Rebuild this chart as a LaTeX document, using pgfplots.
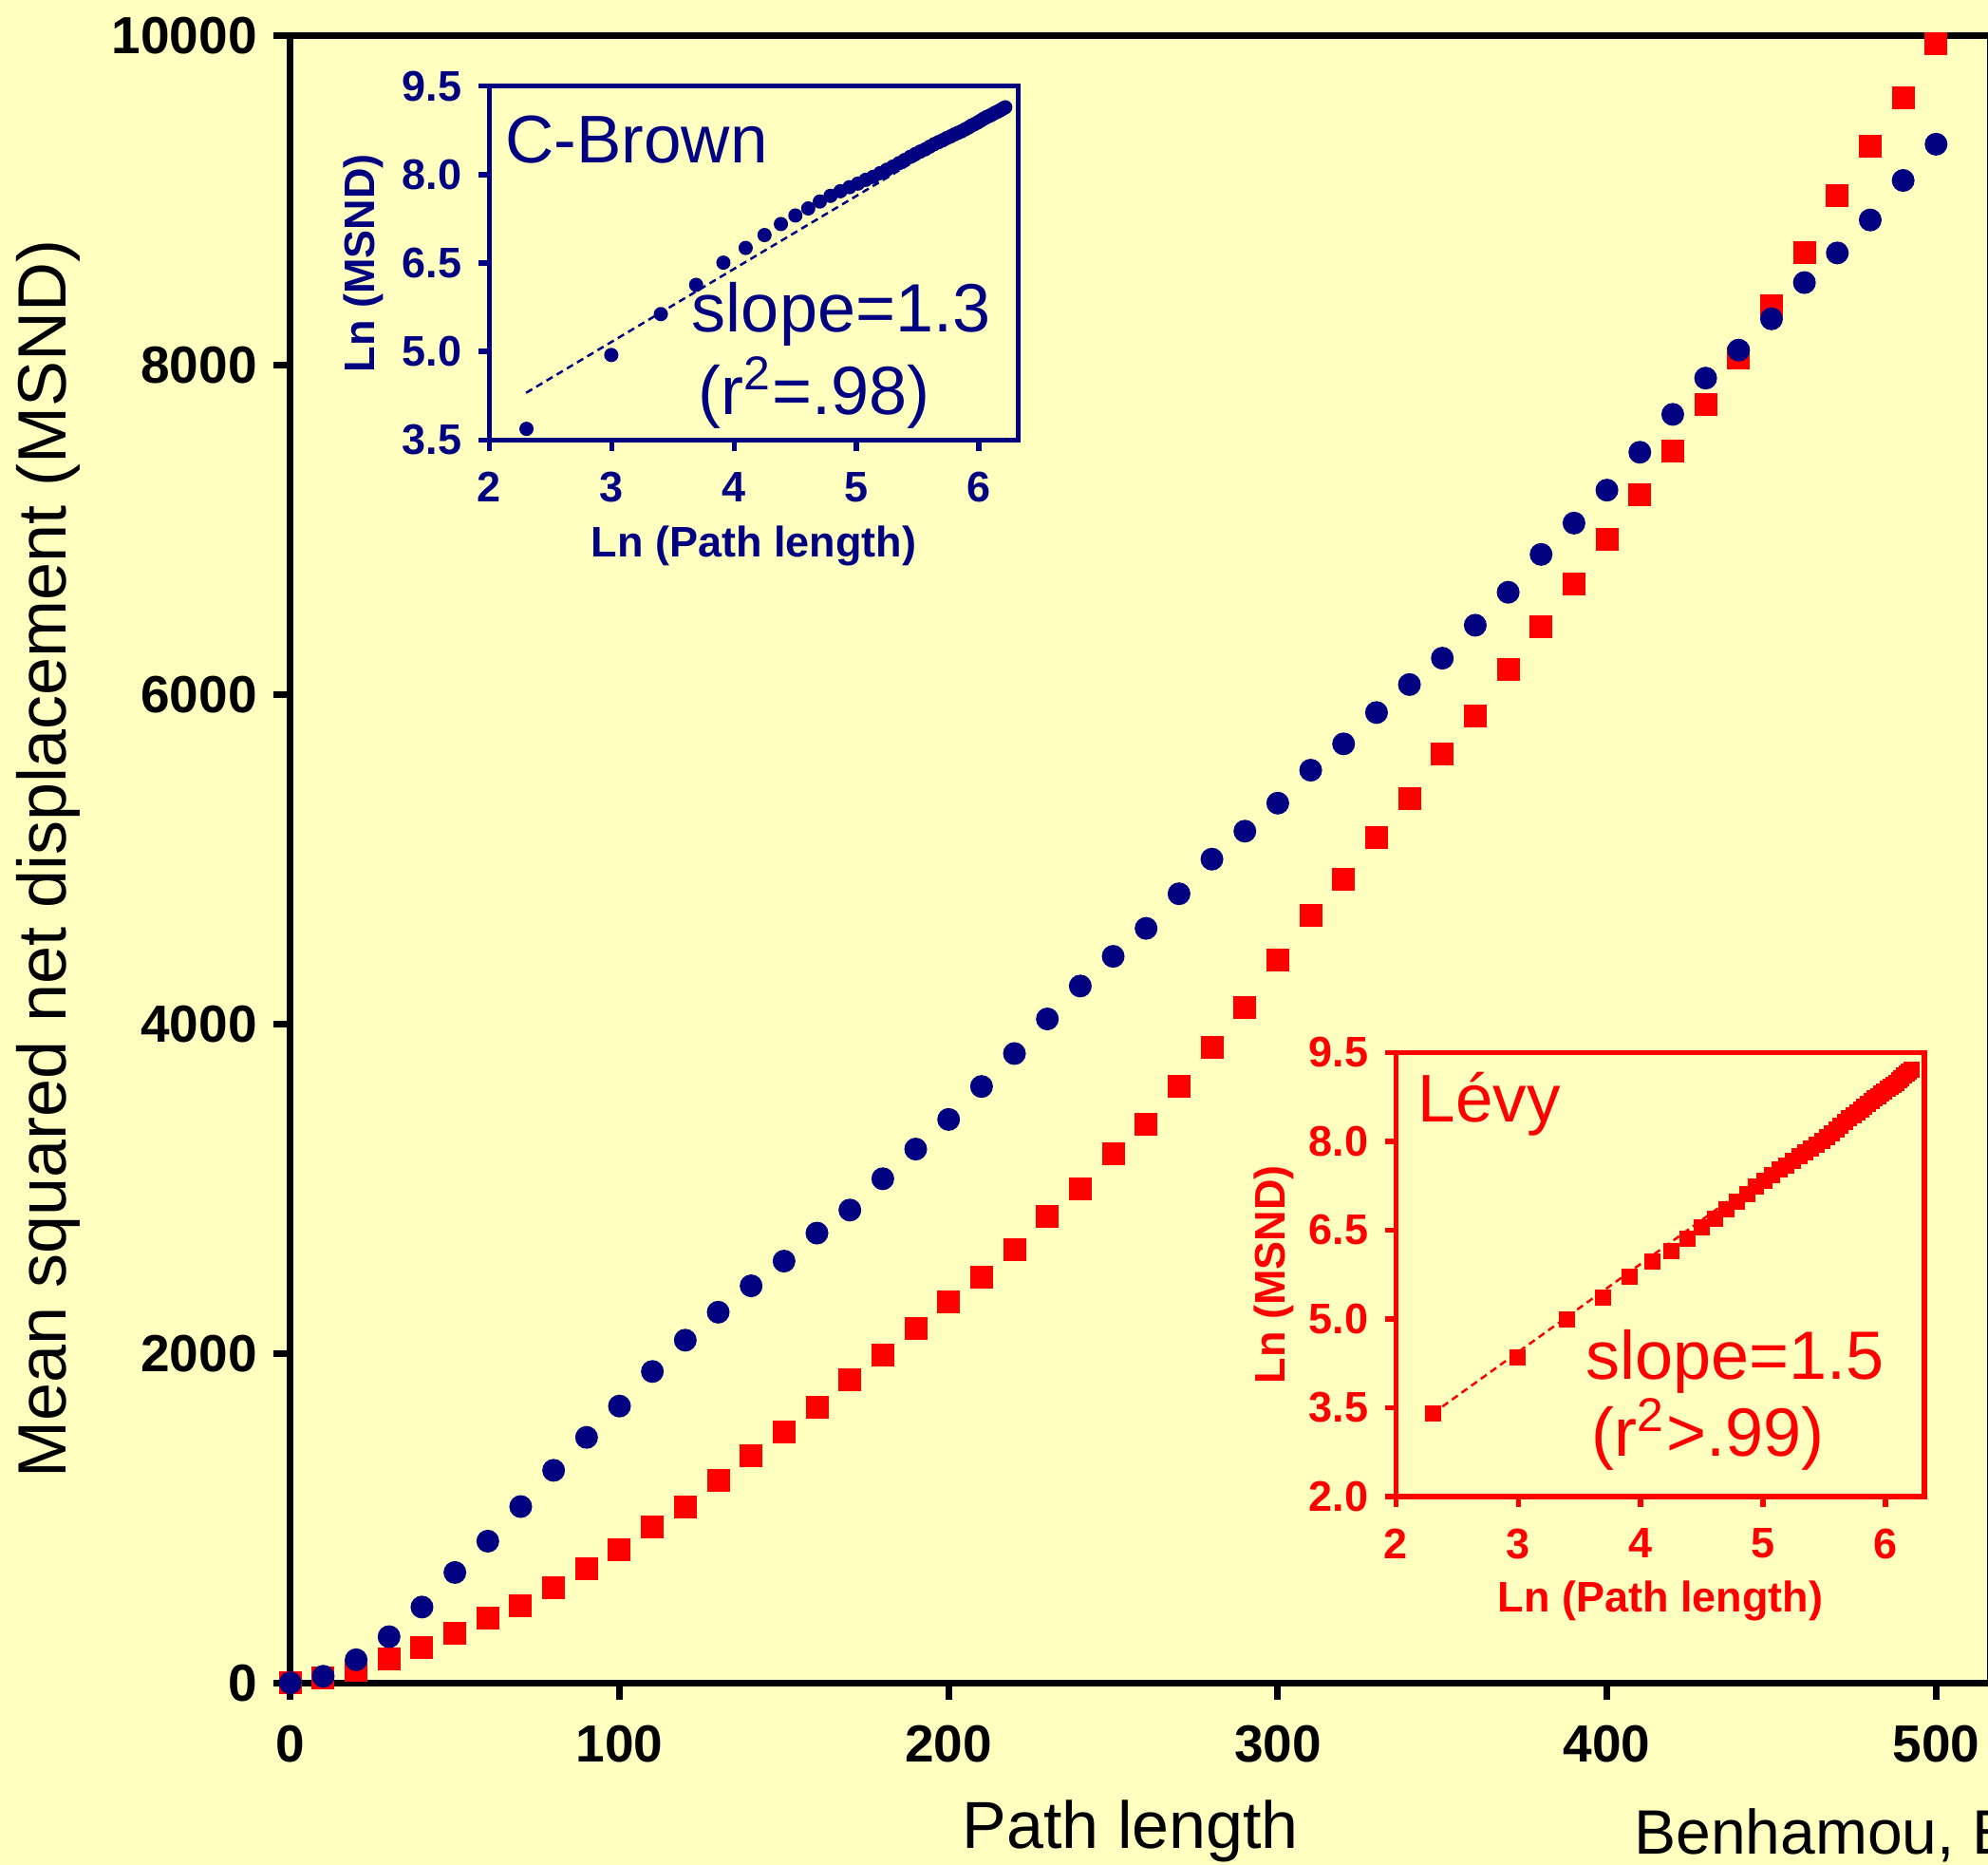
\documentclass[border=0pt]{standalone}
\usepackage{fontspec}
\setmainfont{Liberation Sans}
\usepackage{pgfplots}
\pgfplotsset{compat=1.18}
\definecolor{bgc}{RGB}{255,255,192}
\definecolor{navy}{RGB}{0,0,128}
\definecolor{lred}{RGB}{255,0,0}

% main data: path length vs MSND
\pgfplotstableread{
x y
0 0
10 40
20 140
30 280
40 460
50 670
60 860
70 1070
80 1290
90 1490
100 1680
110 1890
120 2080
130 2250
140 2410
150 2560
160 2730
170 2870
180 3060
190 3240
200 3420
210 3620
220 3820
230 4030
240 4230
250 4410
260 4580
270 4790
280 5000
290 5170
300 5340
310 5540
320 5700
330 5890
340 6060
350 6220
360 6420
370 6620
380 6850
390 7040
400 7240
410 7470
420 7700
430 7920
440 8090
450 8280
460 8500
470 8680
480 8880
490 9120
500 9340
}\brown
\pgfplotstableread{
x y
0 0
10 30
20 77
30 146
40 213
50 300
60 392
70 467
80 576
90 692
100 807
110 945
120 1070
130 1230
140 1380
150 1520
160 1670
170 1840
180 1990
190 2150
200 2310
210 2460
220 2630
230 2830
240 3000
250 3210
260 3390
270 3620
280 3860
290 4100
300 4390
310 4660
320 4880
330 5130
340 5370
350 5640
360 5870
370 6150
380 6410
390 6670
400 6940
410 7210
420 7480
430 7760
440 8040
450 8360
460 8680
470 9030
480 9330
490 9620
500 9950
}\levy
% log-log data for the insets
\pgfplotstableread{
lx ly
2.303 3.689
2.996 4.942
3.401 5.635
3.689 6.131
3.912 6.507
4.094 6.757
4.248 6.975
4.382 7.162
4.500 7.307
4.605 7.427
4.700 7.544
4.787 7.640
4.868 7.719
4.942 7.787
5.011 7.848
5.075 7.912
5.136 7.962
5.193 8.026
5.247 8.083
5.298 8.137
5.347 8.194
5.394 8.248
5.438 8.301
5.481 8.350
5.521 8.392
5.561 8.429
5.598 8.474
5.635 8.517
5.670 8.551
5.704 8.583
5.737 8.620
5.768 8.648
5.799 8.681
5.829 8.709
5.858 8.735
5.886 8.767
5.914 8.798
5.940 8.832
5.966 8.859
5.991 8.887
6.016 8.919
6.040 8.949
6.064 8.977
6.087 8.998
6.109 9.022
6.131 9.048
6.153 9.069
6.174 9.092
6.194 9.118
6.215 9.142
}\lnbrown
\pgfplotstableread{
lx ly
2.303 3.401
2.996 4.344
3.401 4.984
3.689 5.361
3.912 5.704
4.094 5.971
4.248 6.146
4.382 6.356
4.500 6.540
4.605 6.693
4.700 6.851
4.787 6.975
4.868 7.115
4.942 7.230
5.011 7.326
5.075 7.421
5.136 7.518
5.193 7.596
5.247 7.673
5.298 7.745
5.347 7.808
5.394 7.875
5.438 7.948
5.481 8.006
5.521 8.074
5.561 8.129
5.598 8.194
5.635 8.258
5.670 8.319
5.704 8.387
5.737 8.447
5.768 8.493
5.799 8.543
5.829 8.589
5.858 8.638
5.886 8.678
5.914 8.724
5.940 8.766
5.966 8.805
5.991 8.845
6.016 8.883
6.040 8.920
6.064 8.957
6.087 8.992
6.109 9.031
6.131 9.069
6.153 9.108
6.174 9.141
6.194 9.172
6.215 9.205
}\lnlevy

\pgfplotsset{
  inset/.style={
    scale only axis,
    anchor=south west,
    axis line style={line width=1.1pt},
    tick align=outside,
    major tick length=2.3pt,
    tick style={line width=1.1pt},
    xtick pos=bottom, ytick pos=left,
    xmin=2, xmax=6.32,
    xtick={2,3,4,5,6},
    ticklabel style={font=\bfseries\fontsize{9}{10}\selectfont},
    xticklabel style={yshift=-1pt},
    yticklabel style={/pgf/number format/.cd, fixed, fixed zerofill, precision=1},
    /pgf/number format/assume math mode=true,
    clip=false,
  }
}

\begin{document}
\begin{tikzpicture}
\fill[bgc] (-61.16pt,-38.36pt) rectangle (357.64pt,354.44pt);

\begin{axis}[
  name=main,
  at={(0,0)}, anchor=south west,
  scale only axis,
  width=358.14pt, height=346.96pt,
  xmin=0, xmax=516.5, ymin=0, ymax=10000,
  axis line style={line width=1.4pt},
  tick style={line width=1.4pt, black},
  tick align=outside,
  major tick length=3.5pt,
  xtick pos=bottom, ytick pos=left,
  xtick={0,100,...,500},
  ytick={0,2000,...,10000},
  scaled ticks=false,
  ticklabel style={font=\bfseries\fontsize{11}{13}\selectfont},
  xticklabel style={yshift=-2pt},
  /pgf/number format/.cd, assume math mode=true, 1000 sep={},
]
\addplot[only marks, mark=square*, mark size=2.2pt, color=lred] table[x=x,y=y] {\levy};
\addplot[only marks, mark=*, mark size=2.2pt, color=navy] table[x=x,y=y] {\brown};
\end{axis}

\node[anchor=base, font=\fontsize{14}{16}\selectfont] at ([shift={(177pt,-34.8pt)}]main.south west) {Path length};
\node[rotate=90, font=\fontsize{14.4}{16}\selectfont] at ([shift={(-50.9pt,173.5pt)}]main.south west) {Mean squared net displacement (MSND)};
\node[anchor=base west, inner sep=0pt, font=\fontsize{13.2}{15}\selectfont] at ([shift={(282.9pt,-36.1pt)}]main.south west) {Benhamou, E};

% C-Brown inset
\begin{axis}[inset,
  at={(41.94pt,261.76pt)},
  width=111.38pt, height=74.52pt,
  ymin=3.5, ymax=9.5,
  ytick={3.5,5,6.5,8,9.5},
  axis line style={navy}, tick style={navy},
  ticklabel style={text=navy},
]
\addplot[navy, line width=0.5pt, dash pattern=on 1.5pt off 1pt] coordinates {(2.3,4.3) (6.22,9.15)};
\addplot[only marks, mark=*, mark size=1.3pt, color=navy] table[x=lx,y=ly] {\lnbrown};
\node[anchor=west, inner sep=0pt, navy, font=\fontsize{14.2}{16}\selectfont] at (rel axis cs:0,1) [xshift=3.2pt, yshift=-11.2pt] {C-Brown};
\node[anchor=base west, inner sep=0pt, navy, font=\fontsize{14.4}{16}\selectfont] at (rel axis cs:0,1) [xshift=42.5pt, yshift=-51.8pt] {slope=1.3};
\node[anchor=base west, inner sep=0pt, navy, font=\fontsize{14.4}{16}\selectfont] at (rel axis cs:0,1) [xshift=43.8pt, yshift=-69.2pt] {(r\textsuperscript{2}=.98)};
\node[navy, font=\bfseries\fontsize{9}{10}\selectfont] at (rel axis cs:0.5,0) [yshift=-22.3pt] {Ln (Path length)};
\node[navy, rotate=90, font=\bfseries\fontsize{9}{10}\selectfont] at ([xshift=-26.5pt]rel axis cs:0,0.5) {Ln (MSND)};
\end{axis}

% Levy inset
\begin{axis}[inset,
  at={(232.92pt,39.26pt)},
  width=111.36pt, height=93.5pt,
  ymin=2, ymax=9.5,
  ytick={2,3.5,5,6.5,8,9.5},
  axis line style={lred}, tick style={lred},
  ticklabel style={text=lred},
]
\addplot[lred, line width=0.5pt, dash pattern=on 1.5pt off 1pt] coordinates {(2.3,3.4) (6.2,9.2)};
\addplot[only marks, mark=square*, mark size=1.5pt, color=lred] table[x=lx,y=ly] {\lnlevy};
\node[anchor=base west, inner sep=0pt, lred, font=\fontsize{14.2}{16}\selectfont] at (rel axis cs:0,1) [xshift=4.5pt, yshift=-14.7pt] {Lévy};
\node[anchor=base west, inner sep=0pt, lred, font=\fontsize{14.4}{16}\selectfont] at (rel axis cs:0,1) [xshift=39.8pt, yshift=-68.9pt] {slope=1.5};
\node[anchor=base west, inner sep=0pt, lred, font=\fontsize{14.4}{16}\selectfont] at (rel axis cs:0,1) [xshift=41.1pt, yshift=-85pt] {(r\textsuperscript{2}>.99)};
\node[lred, font=\bfseries\fontsize{9}{10}\selectfont] at (rel axis cs:0.5,0) [yshift=-22.1pt] {Ln (Path length)};
\node[lred, rotate=90, font=\bfseries\fontsize{9}{10}\selectfont] at ([xshift=-25.7pt]rel axis cs:0,0.5) {Ln (MSND)};
\end{axis}

\pgfresetboundingbox
\path[use as bounding box] ([shift={(-61.16pt,-38.36pt)}]main.south west) rectangle ([shift={(357.64pt,354.44pt)}]main.south west);
\end{tikzpicture}
\end{document}
